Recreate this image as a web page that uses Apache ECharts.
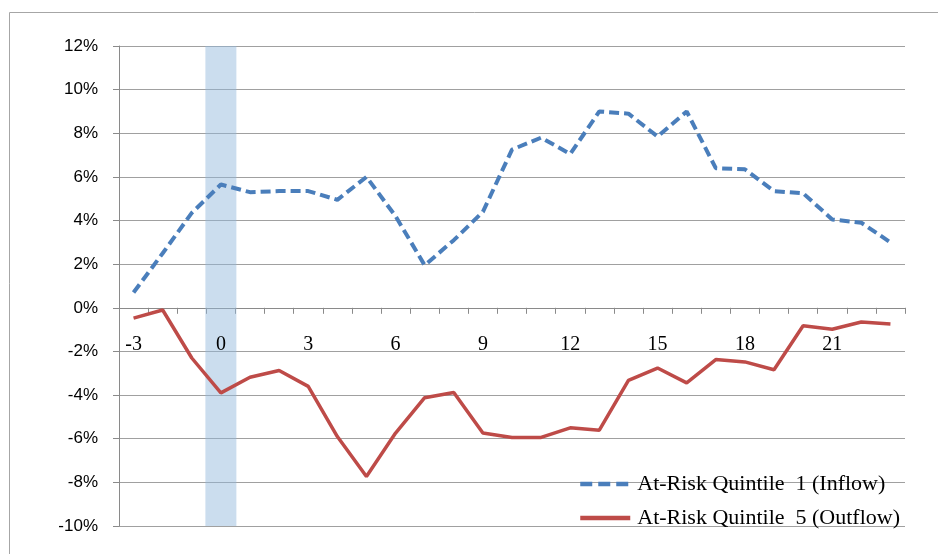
<!DOCTYPE html>
<html>
<head>
<meta charset="utf-8">
<title>At-Risk Quintile Flows</title>
<script src="https://cdn.jsdelivr.net/npm/echarts@6/dist/echarts.min.js"></script>
<style>
  html, body { margin: 0; padding: 0; background: #ffffff; }
  #chart { width: 938px; height: 554px; }
</style>
</head>
<body>
<div id="chart"></div>
<script>
// Event time, months relative to the event (month 0 is shaded)
const months = [-3, -2, -1, 0, 1, 2, 3, 4, 5, 6, 7, 8, 9, 10, 11, 12, 13, 14, 15, 16, 17, 18, 19, 20, 21, 22, 23];

// Cumulative flows, in percent
const inflowQ1 = [0.7, 2.5, 4.35, 5.65, 5.3, 5.35, 5.35, 4.95, 6.0, 4.2, 1.95, 3.1, 4.4, 7.25, 7.8, 7.05, 9.0, 8.9, 7.85, 9.0, 6.4, 6.35, 5.35, 5.25, 4.05, 3.9, 3.0];
const outflowQ5 = [-0.47, -0.1, -2.3, -3.9, -3.18, -2.87, -3.6, -5.9, -7.73, -5.74, -4.12, -3.88, -5.74, -5.94, -5.94, -5.5, -5.61, -3.33, -2.76, -3.44, -2.37, -2.48, -2.84, -0.82, -0.98, -0.65, -0.74];

// Value axis range and the highlighted event month
const yMin = -10;
const yMax = 12;
const yStep = 2;
const eventMonth = 0;

const seriesNames = ['At-Risk Quintile  1 (Inflow)', 'At-Risk Quintile  5 (Outflow)'];

const categories = months.map(String);
const bandUpper = months.map(m => (m === eventMonth ? yMax : null));
const bandLower = months.map(m => (m === eventMonth ? yMin : null));

const serif = '"Liberation Serif", "Times New Roman", serif';

const gridTop = 46;
const gridBottom = 28;
const plotHeight = 554 - gridTop - gridBottom;
// distance from the bottom of the plot up to the zero line
const zeroOffset = plotHeight * (0 - yMin) / (yMax - yMin);

const chart = echarts.init(document.getElementById('chart'), null, { renderer: 'canvas' });

chart.setOption({
  backgroundColor: '#ffffff',
  animation: false,
  graphic: [{
    type: 'rect',
    shape: { x: 9.5, y: 12.5, width: 960, height: 580 },
    style: { fill: 'none', stroke: '#a6a6a6', lineWidth: 1 },
    silent: true, z: -10
  }],
  grid: { left: 119, right: 33, top: gridTop, bottom: gridBottom, containLabel: false },
  legend: {
    orient: 'vertical',
    left: 573,
    top: 468,
    itemWidth: 50,
    itemHeight: 14,
    itemGap: 12,
    data: [
      { name: seriesNames[0], lineStyle: { width: 4.5, type: [12, 6] } },
      { name: seriesNames[1], lineStyle: { width: 4.5 } }
    ],
    itemStyle: { opacity: 0 },
    textStyle: {
      fontFamily: serif,
      fontSize: 22,
      lineHeight: 20,
      color: '#000000',
      padding: [0, 0, 0, 2]
    }
  },
  xAxis: [
    {
      type: 'category',
      data: categories,
      boundaryGap: true,
      axisLine: { onZero: true, lineStyle: { color: '#8a8a8a', width: 1 } },
      axisTick: { show: true, interval: 0, length: 6, lineStyle: { color: '#8a8a8a' } },
      axisLabel: { show: false },
      splitLine: { show: false }
    },
    {
      // label row sitting just under the zero line
      type: 'category',
      data: categories,
      boundaryGap: true,
      position: 'bottom',
      offset: -zeroOffset,
      z: 10,
      axisLine: { show: false, onZero: false },
      axisTick: { show: false },
      axisLabel: {
        interval: 2,
        margin: 27,
        color: '#000000',
        fontFamily: serif,
        fontSize: 20
      },
      splitLine: { show: false }
    }
  ],
  yAxis: {
    type: 'value',
    min: yMin,
    max: yMax,
    interval: yStep,
    axisLine: { show: true, lineStyle: { color: '#8a8a8a', width: 1 } },
    axisTick: { show: true, length: 6, lineStyle: { color: '#8a8a8a' } },
    axisLabel: {
      margin: 21,
      color: '#000000',
      fontFamily: '"Liberation Sans", Arial, sans-serif',
      fontSize: 17,
      formatter: v => v + '%'
    },
    splitLine: { show: true, lineStyle: { color: '#a0a0a0', width: 1.2 } }
  },
  series: [
    {
      name: 'event-band-upper',
      type: 'bar',
      data: bandUpper,
      barWidth: 31,
      barGap: '-100%',
      itemStyle: { color: 'rgba(146,184,220,0.48)' },
      silent: true,
      z: 1
    },
    {
      name: 'event-band-lower',
      type: 'bar',
      data: bandLower,
      barWidth: 31,
      barGap: '-100%',
      itemStyle: { color: 'rgba(146,184,220,0.48)' },
      silent: true,
      z: 1
    },
    {
      name: seriesNames[0],
      type: 'line',
      data: inflowQ1,
      symbol: 'none',
      lineStyle: { color: '#4a7ebb', width: 4, type: [10, 5] },
      itemStyle: { color: '#4a7ebb' },
      z: 3
    },
    {
      name: seriesNames[1],
      type: 'line',
      data: outflowQ5,
      symbol: 'none',
      lineStyle: { color: '#be4b48', width: 3.5 },
      itemStyle: { color: '#be4b48' },
      z: 4
    }
  ]
});
</script>
</body>
</html>
